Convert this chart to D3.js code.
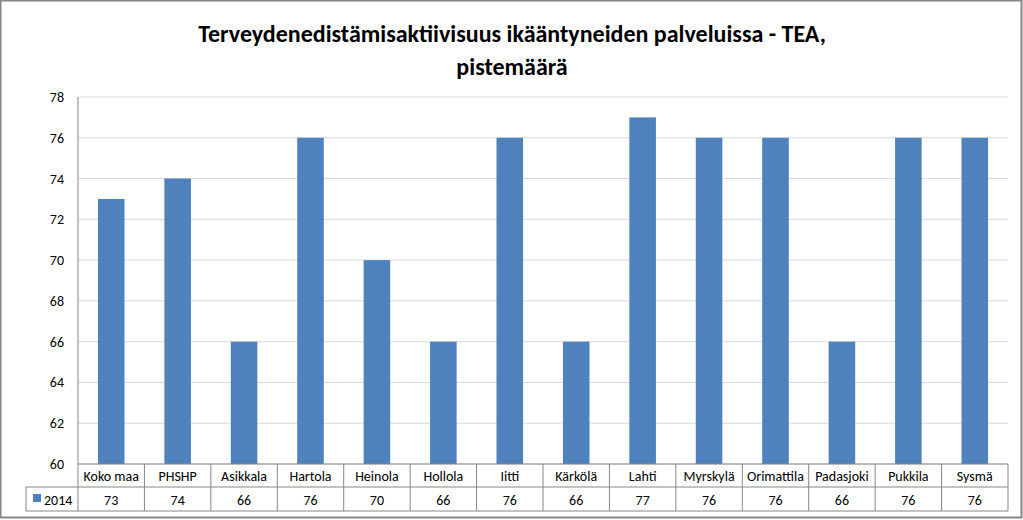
<!DOCTYPE html><html><head><meta charset="utf-8"><script src="https://cdn.jsdelivr.net/npm/d3@7"></script>
<style>body{margin:0;background:#fff}svg{font-family:Calibri,Carlito,"Liberation Sans",sans-serif}</style></head><body><svg width="1023" height="520"></svg><script>
const categories=["Koko maa","PHSHP","Asikkala","Hartola","Heinola","Hollola","Iitti","Kärkölä","Lahti","Myrskylä","Orimattila","Padasjoki","Pukkila","Sysmä"];
const values=[73,74,66,76,70,66,76,66,77,76,76,66,76,76];
const seriesName="2014";
const yTicks=[60,62,64,66,68,70,72,74,76,78];
const svg=d3.select("svg");
svg.append("rect").attr("x",0.5).attr("y",0.5).attr("width",1021).attr("height",517).attr("fill","#fff").attr("stroke","#868686").attr("stroke-width",2);
const L=78,R=1008,T=97,B=464;
const x=d3.scaleBand().domain(categories).range([L,R]);
const y=d3.scaleLinear().domain([60,78]).range([B,T]);
svg.append("text").attr("x",512).attr("y",42).attr("text-anchor","middle").attr("font-size",24).attr("font-weight","bold").text("Terveydenedistämisaktiivisuus ikääntyneiden palveluissa - TEA,");
svg.append("text").attr("x",512).attr("y",75).attr("text-anchor","middle").attr("font-size",24).attr("font-weight","bold").text("pistemäärä");
svg.append("g").selectAll("line").data(yTicks).join("line").attr("x1",L).attr("x2",R).attr("y1",d=>y(d)).attr("y2",d=>y(d)).attr("stroke","#d9d9d9");
svg.append("g").selectAll("text").data(yTicks).join("text").attr("x",L-14).attr("y",d=>y(d)+5).attr("text-anchor","end").attr("font-size",14).text(d=>d);
svg.append("g").selectAll("rect").data(values).join("rect").attr("x",(d,i)=>x(categories[i])+x.bandwidth()*0.3).attr("width",x.bandwidth()*0.4).attr("y",d=>y(d)).attr("height",d=>B-y(d)).attr("fill","#4f81bd");
// table
const g=svg.append("g").attr("stroke","#868686").attr("fill","none");
g.append("line").attr("x1",L).attr("x2",L).attr("y1",T).attr("y2",511);
g.append("line").attr("x1",L).attr("x2",R).attr("y1",B).attr("y2",B);
g.append("line").attr("x1",26).attr("x2",R).attr("y1",487).attr("y2",487);
g.append("line").attr("x1",26).attr("x2",R).attr("y1",511).attr("y2",511);
g.append("line").attr("x1",26).attr("x2",26).attr("y1",487).attr("y2",511);
g.selectAll(".v").data(categories).join("line").attr("x1",d=>x(d)+x.bandwidth()).attr("x2",d=>x(d)+x.bandwidth()).attr("y1",B).attr("y2",511);
svg.append("g").selectAll("text").data(categories).join("text").attr("x",d=>x(d)+x.bandwidth()/2).attr("y",481).attr("text-anchor","middle").attr("font-size",14).text(d=>d);
svg.append("g").selectAll("text").data(values).join("text").attr("x",(d,i)=>x(categories[i])+x.bandwidth()/2).attr("y",505).attr("text-anchor","middle").attr("font-size",14).text(d=>d);
svg.append("rect").attr("x",33).attr("y",494).attr("width",8).attr("height",8).attr("fill","#4f81bd");
svg.append("text").attr("x",44).attr("y",505).attr("font-size",14).text(seriesName);
</script></body></html>
